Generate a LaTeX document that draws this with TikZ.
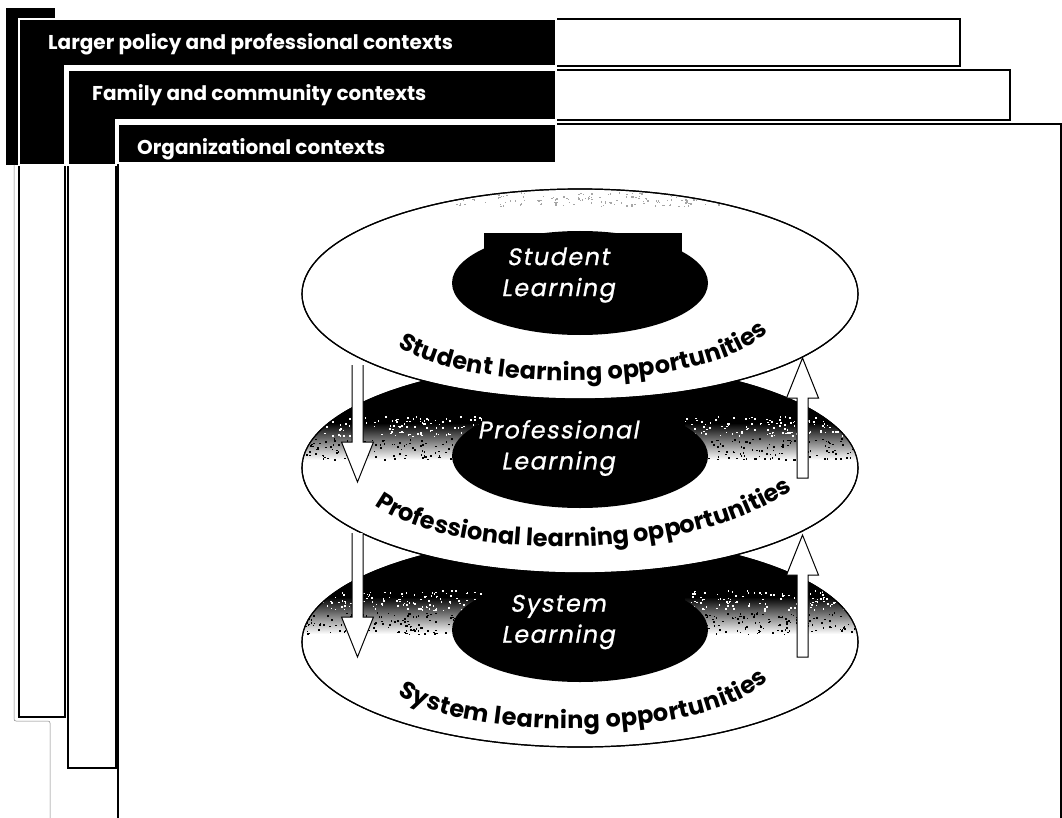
\documentclass[tikz,border=0pt]{standalone}
\usepackage{fontspec}
\setmainfont{Poppins}
\newfontfamily\coreFont{Poppins}[FakeSlant=0.18, FakeBold=0.8, LetterSpace=6]
\usetikzlibrary{calc,shapes.geometric,decorations.text}

\newcommand{\ringfont}{\bfseries\fontsize{24}{24}\selectfont}
% hollow block arrow from tail coordinate #1 to tip coordinate #2, #3 closes the tail
\newcommand{\fatarrow}[3]{%
  \draw[arrowbody] let \p1=(#1), \p2=(#2), \n1={sign(\y2-\y1)} in
    (\x1-5.5pt,\y1) -- (\x1-5.5pt,\y2-40pt*\n1) -- (\x1-16pt,\y2-40pt*\n1) -- (\x2,\y2)
    -- (\x1+16pt,\y2-40pt*\n1) -- (\x1+5.5pt,\y2-40pt*\n1) -- (\x1+5.5pt,\y1) #3;}

\tikzset{
  panel/.style={draw=black, line width=1.1pt, fill=white},
  tab/.style={fill=black, draw=white, line width=1.6pt},
  tablabel/.style={anchor=base west, text=white, inner sep=0pt,
    font=\bfseries\fontsize{20}{22}\selectfont},
  layer/.style={ellipse, draw=black, line width=1.2pt, fill=white,
    minimum width=556pt, minimum height=210pt, inner sep=0pt},
  rim/.style={draw=black, line width=1.2pt},
  core/.style={ellipse, fill=black, minimum width=256pt, minimum height=104pt, inner sep=0pt},
  corename/.style={text=white, align=center, inner sep=0pt,
    font=\coreFont\fontsize{24}{31}\selectfont},
  arrowbody/.style={draw=black, fill=white, line width=1pt, line join=miter},
  ringtext/.style={decorate, decoration={text along path, text align=fit to path,
    text={|\ringfont|#1}}},
}

\begin{document}
\begin{tikzpicture}[x=1pt, y=-1pt]
\useasboundingbox (0,0) rectangle (1062,818);
\pgfmathsetseed{4217}

% context frames
\fill (6,8) rectangle (55,165);
\draw[gray, line width=.5pt, rounded corners=2pt] (14,165) -- (14,721) -- (50,721) -- (50,818);
\draw[panel] (19,19) -- (960,19) -- (960,66) -- (65,66) -- (65,717) -- (19,717) -- cycle;
\draw[tab] (19,19) -- (556,19) -- (556,66) -- (65,66) -- (65,165) -- (19,165) -- cycle;
\draw[panel] (68,70) -- (1010,70) -- (1010,120) -- (116,120) -- (116,768) -- (68,768) -- cycle;
\draw[tab] (68,70) -- (556,70) -- (556,120) -- (116,120) -- (116,165) -- (68,165) -- cycle;
\draw[panel] (118,124) -- (1061,124) -- (1061,830) -- (118,830) -- cycle;
\draw[tab] (118,124) -- (556,124) -- (556,163) -- (118,163) -- cycle;
\node[tablabel] (policyLbl) at (48,50) {Larger policy and professional contexts};
\node[tablabel] (familyLbl) at (92,101) {Family and community contexts};
\node[tablabel] (orgLbl) at (137,155) {Organizational contexts};

% lower layers, drawn from the bottom up
\foreach \nm/\cy/\word in {sys/642/System, pro/468/Professional}{
  \node[layer] (\nm Layer) at (580,\cy) {};
  \begin{scope}
    \clip (580,\cy) ellipse [x radius=278, y radius=105];
    \fill (290,\cy-110) rectangle (870,\cy-45);
    \shade[top color=black, bottom color=white] (290,\cy-45) rectangle (870,\cy-8);
    % grain along the edge of the dark band
    \foreach \k in {1,...,420}{
      \fill[white] (290+580*rnd,\cy-52+20*rnd) rectangle +(1.6,1.6);
      \fill[black] (290+580*rnd,\cy-30+22*rnd) rectangle +(1.6,1.6);
    }
  \end{scope}
  \draw[rim] (580,\cy) ellipse [x radius=278, y radius=105];
  \node[core] (\nm Core) at (580,\cy-12) {};
  \fill ($(\nm Core)+(-98,-50)$) rectangle ($(\nm Core)+(105,-15)$);
  \node[corename] (\nm Name) at ($(\nm Core)+(-22,-8)$) {\word\\Learning};
}
\path[ringtext={System learning opportunities}] (398,694) .. controls (470,744) and (712,740) .. (768,680);
\path[ringtext={Professional learning opportunities}] (375,505) .. controls (455,563) and (690,563) .. (792,490);

% top layer
\node[layer] (stuLayer) at (580,294) {};
\begin{scope}
  \clip (580,294) ellipse [x radius=278, y radius=105];
  \foreach \k in {1,...,160}{
    \fill[black!35] (450+270*rnd,192+14*rnd) rectangle +(1.4,1.4);
  }
\end{scope}
\draw[rim] (580,294) ellipse [x radius=278, y radius=105];
\node[core] (stuCore) at (580,283) {};
\fill ($(stuCore)+(-96,-50)$) rectangle ($(stuCore)+(102,-22)$);
\node[corename] (stuName) at ($(stuCore)+(-22,-8)$) {Student\\Learning};
\path[ringtext={Student learning opportunities}] (398,346) .. controls (470,396) and (712,392) .. (768,332);

% flows between layers
\coordinate (dnTopTail) at (357.5,365);
\coordinate (dnTopTip) at (357.5,482);
\coordinate (dnLowTail) at (357.5,533);
\coordinate (dnLowTip) at (357.5,657);
\coordinate (upTopTail) at (802.5,478);
\coordinate (upTopTip) at (802.5,358);
\coordinate (upLowTail) at (802.5,657);
\coordinate (upLowTip) at (802.5,535);
\fatarrow{dnTopTail}{dnTopTip}{}
\fatarrow{dnLowTail}{dnLowTip}{}
\fatarrow{upTopTail}{upTopTip}{-- cycle}
\fatarrow{upLowTail}{upLowTip}{-- cycle}
\end{tikzpicture}
\end{document}
